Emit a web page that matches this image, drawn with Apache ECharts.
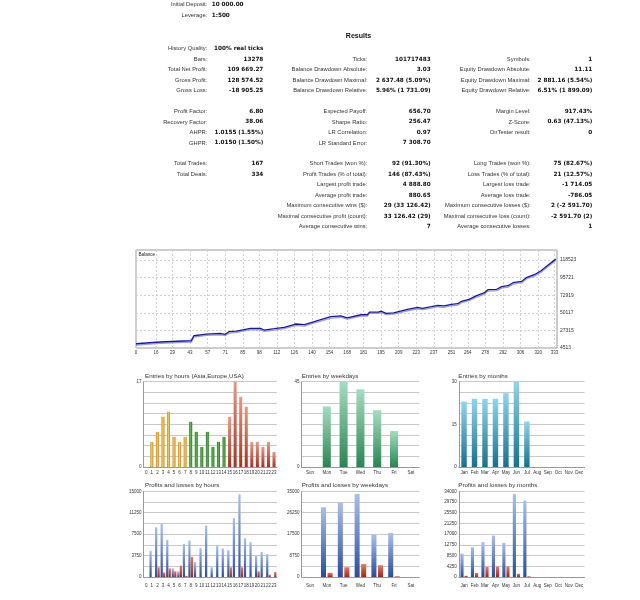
<!DOCTYPE html>
<html lang="en">
<head>
<meta charset="UTF-8">
<script src="https://cdn.jsdelivr.net/npm/echarts@6/dist/echarts.min.js"></script>
<title>Strategy Tester Report</title>
<style>
    html, body { margin: 0; padding: 0; background: #fff; }
    #main { width: 640px; height: 600px; }
</style>
</head>
<body>
<div id="main"></div>
<script type="text/javascript">

// ---- report text ----
var headerLabels = ['Initial Deposit:', 'Leverage:'];
var headerValues = ['10 000.00', '1:500'];

// each row: label, value, label, value, label, value (null = empty row)
var resultRows = [
    ['History Quality:', '100% real ticks', '', '', '', ''],
    ['Bars:', '13278', 'Ticks:', '101717483', 'Symbols:', '1'],
    ['Total Net Profit:', '109 669.27', 'Balance Drawdown Absolute:', '3.03', 'Equity Drawdown Absolute:', '11.11'],
    ['Gross Profit:', '128 574.52', 'Balance Drawdown Maximal:', '2 637.48 (5.09%)', 'Equity Drawdown Maximal:', '2 881.16 (5.54%)'],
    ['Gross Loss:', '-18 905.25', 'Balance Drawdown Relative:', '5.96% (1 731.09)', 'Equity Drawdown Relative:', '6.51% (1 899.09)'],
    null,
    ['Profit Factor:', '6.80', 'Expected Payoff:', '656.70', 'Margin Level:', '917.43%'],
    ['Recovery Factor:', '38.06', 'Sharpe Ratio:', '256.47', 'Z-Score:', '0.63 (47.13%)'],
    ['AHPR:', '1.0155 (1.55%)', 'LR Correlation:', '0.97', 'OnTester result:', '0'],
    ['GHPR:', '1.0150 (1.50%)', 'LR Standard Error:', '7 308.70', '', ''],
    null,
    ['Total Trades:', '167', 'Short Trades (won %):', '92 (91.30%)', 'Long Trades (won %):', '75 (82.67%)'],
    ['Total Deals:', '334', 'Profit Trades (% of total):', '146 (87.43%)', 'Loss Trades (% of total):', '21 (12.57%)'],
    ['', '', 'Largest profit trade:', '4 888.80', 'Largest loss trade:', '-1 714.05'],
    ['', '', 'Average profit trade:', '880.65', 'Average loss trade:', '-786.05'],
    ['', '', 'Maximum consecutive wins ($):', '29 (33 126.42)', 'Maximum consecutive losses ($):', '2 (-2 591.70)'],
    ['', '', 'Maximal consecutive profit (count):', '33 126.42 (29)', 'Maximal consecutive loss (count):', '-2 591.70 (2)'],
    ['', '', 'Average consecutive wins:', '7', 'Average consecutive losses:', '1']
];

// ---- balance graph ----
var balanceTicks = [0, 16, 29, 43, 57, 71, 85, 98, 112, 126, 140, 154, 168, 181, 195, 209, 223, 237, 251, 264, 278, 292, 306, 320, 333];
var balanceLevels = [4513, 27315, 50117, 72919, 95721, 118523];
var balanceDeal = [0, 19, 38, 44, 46, 56, 67, 71, 74, 80, 91, 99, 102, 110, 118, 127, 134, 140, 147, 155,
    163, 168, 179, 184, 186, 193, 195, 199, 205, 216, 224, 228, 235, 240, 245, 251, 256, 259, 265, 271,
    277, 280, 287, 291, 296, 300, 307, 311, 317, 322, 328, 334];
var balanceValue = [10000, 12300, 13600, 13900, 20400, 22600, 23500, 22300, 25600, 26500, 30000, 30000, 27800, 29500, 31300, 35600, 34700, 37800, 41200, 45100,
    46200, 43600, 47600, 47600, 51100, 51100, 52400, 49500, 50100, 54600, 57200, 56000, 58000, 59800, 59100, 61100, 61900, 65000, 67600, 72300,
    75800, 80100, 80600, 84000, 85200, 89100, 90900, 96100, 99500, 104300, 112000, 119669];

// ---- entries ----
var hours = ['0', '1', '2', '3', '4', '5', '6', '7', '8', '9', '10', '11', '12', '13', '14', '15', '16', '17', '18', '19', '20', '21', '22', '23'];
var weekdays = ['Sun', 'Mon', 'Tue', 'Wed', 'Thu', 'Fri', 'Sat'];
var months = ['Jan', 'Feb', 'Mar', 'Apr', 'May', 'Jun', 'Jul', 'Aug', 'Sep', 'Oct', 'Nov', 'Dec'];

var entriesByHour = [0, 5, 7, 10, 11, 6, 5, 6, 9, 7, 4, 7, 4, 5, 6, 10, 17, 14, 12, 5, 5, 4, 5, 3];
var entriesByWeekday = [0, 32, 45, 41, 30, 19, 0];
var entriesByMonth = [23, 24, 24, 24, 26, 30, 16, 0, 0, 0, 0, 0];
var entriesHourTicks = [0, 17];
var entriesWeekdayTicks = [0, 45];
var entriesMonthTicks = [0, 15, 30];

// ---- profits and losses ----
var profitByHour = [0, 4600, 8700, 9300, 6500, 1500, 1000, 5800, 6400, 2600, 5100, 9000, 1700, 5500, 5000, 4700, 10300, 14500, 6800, 6100, 3700, 4400, 4000, 0];
var lossByHour = [0, 0, 1700, 800, 1500, 1000, 2000, 200, 3500, 0, 0, 0, 0, 0, 0, 1700, 0, 1700, 0, 0, 1000, 0, 400, 900];
var profitByWeekday = [0, 28500, 30500, 33900, 17300, 18000, 0];
var lossByWeekday = [0, 1700, 4000, 5300, 4800, 300, 0];
var profitByMonth = [9300, 11800, 13800, 16400, 13500, 32900, 30300, 0, 0, 0, 0, 0];
var lossByMonth = [500, 1600, 4000, 4200, 4200, 1300, 300, 0, 0, 0, 0, 0];
var plHourTicks = [0, 3750, 7500, 11250, 15000];
var plWeekdayTicks = [0, 8750, 17500, 26250, 35000];
var plMonthTicks = [0, 4250, 8500, 12750, 17000, 21250, 25500, 29750, 34000];

var myChart = echarts.init(document.getElementById('main'));

// text blocks
var graphics = [];
function txt(x, y, s, opts) {
    graphics.push({
        type: 'text', x: x, y: y, silent: true,
        style: {
            text: s, fill: opts.fill || '#222',
            fontSize: opts.size, fontFamily: opts.family || '"Liberation Sans", Arial, sans-serif',
            fontWeight: opts.weight || 'normal',
            align: opts.align || 'right', verticalAlign: 'middle'
        }
    });
}
var LBL = { size: 5.8, fill: '#333' };
var VAL = { size: 5.7, weight: 'bold', family: '"DejaVu Sans", sans-serif', fill: '#111' };

headerLabels.forEach(function (l, i) {
    txt(207.3, 4.7 + i * 10.4, l, LBL);
    txt(211.7, 4.7 + i * 10.4, headerValues[i], { size: 5.7, weight: 'bold', family: '"DejaVu Sans", sans-serif', fill: '#111', align: 'left' });
});
txt(358.5, 36, 'Results', { size: 7, weight: 'bold', fill: '#111', align: 'center' });

var labelRight = [207.3, 367.3, 530.7];
var valueRight = [263.3, 430.7, 592.3];
resultRows.forEach(function (row, i) {
    if (!row) return;
    var y = 48.7 + i * 10.47;
    for (var c = 0; c < 3; c++) {
        if (row[c * 2]) txt(labelRight[c], y, row[c * 2], LBL);
        if (row[c * 2 + 1]) txt(valueRight[c], y, row[c * 2 + 1], VAL);
    }
});

txt(138.5, 254.5, 'Balance', { size: 4.6, fill: '#222', align: 'left' });

var titleOpt = { size: 6.2, fill: '#333', align: 'left' };
txt(145, 376.7, 'Entries by hours (Asia,Europe,USA)', titleOpt);
txt(301.7, 376.2, 'Entries by weekdays', titleOpt);
txt(458.3, 376.2, 'Entries by months', titleOpt);
txt(145, 485.3, 'Profits and losses by hours', titleOpt);
txt(301.7, 485.3, 'Profits and losses by weekdays', titleOpt);
txt(458.3, 485.3, 'Profits and losses by months', titleOpt);

// balance categories (deal numbers)
var dealCats = [];
for (var d = 0; d <= 335; d++) dealCats.push(String(d));
var balancePoints = balanceDeal.map(function (x, i) { return [x, balanceValue[i]]; });

function vgrad(top, bottom) {
    return new echarts.graphic.LinearGradient(0, 0, 0, 1, [{ offset: 0, color: top }, { offset: 1, color: bottom }]);
}
function hgrad(edge, mid) {
    return new echarts.graphic.LinearGradient(0, 0, 1, 0, [{ offset: 0, color: edge }, { offset: 0.45, color: mid }, { offset: 1, color: edge }]);
}
function hourColor(i) {
    if (i < 8) return hgrad('#c8881c', '#f3c865');
    if (i < 15) return hgrad('#2e7a2a', '#5fb052');
    return vgrad('#e79a88', '#a8321f');
}

function barGrid(left, top, width, height) {
    return { left: left, top: top, width: width, height: height, containLabel: false };
}
function catAxis(idx, data, margin) {
    return {
        type: 'category', gridIndex: idx, data: data,
        axisLine: { lineStyle: { color: '#999', width: 1 } },
        axisTick: { show: false },
        axisLabel: { interval: 0, fontSize: 4.5, color: '#333', margin: margin, fontFamily: '"Liberation Sans", Arial, sans-serif' },
        splitLine: { show: false }
    };
}
function valAxis(idx, ticks) {
    var max = ticks[ticks.length - 1];
    return {
        type: 'value', gridIndex: idx, min: 0, max: max, interval: max / 8,
        axisLine: { show: true, lineStyle: { color: '#999', width: 1 } },
        axisTick: { show: false },
        axisLabel: {
            fontSize: 4.5, color: '#333', margin: 2, fontFamily: '"Liberation Sans", Arial, sans-serif',
            formatter: function (v) {
                return ticks.some(function (t) { return Math.abs(t - v) < 1e-6; }) ? String(Math.round(v)) : '';
            }
        },
        splitLine: { show: true, lineStyle: { color: '#c8c8c8', width: 1 } }
    };
}

var blueGrad = vgrad('#a9c0ec', '#2b4c9c');
var redGrad = vgrad('#e27a66', '#9e2a18');

var option = {
    backgroundColor: '#ffffff',
    animation: false,
    graphic: graphics,
    grid: [
        { left: 136, top: 250, width: 421, height: 98, show: true, borderColor: '#9a9a9a', borderWidth: 1, backgroundColor: '#fff' },
        barGrid(143.5, 381.7, 133.3, 85.3),
        barGrid(301.6, 381.7, 117.6, 85.3),
        barGrid(458.8, 381.7, 125.7, 85.3),
        barGrid(143.5, 491.3, 133.3, 85.7),
        barGrid(301.6, 491.3, 117.6, 85.7),
        barGrid(458.8, 491.3, 125.7, 85.7)
    ],
    xAxis: [
        {
            type: 'category', gridIndex: 0, data: dealCats, boundaryGap: false,
            axisLine: { show: false }, axisTick: { show: false },
            axisLabel: {
                fontSize: 4.5, color: '#333', margin: 2, fontFamily: '"Liberation Sans", Arial, sans-serif',
                interval: function (i) { return balanceTicks.indexOf(i) >= 0; }
            },
            splitLine: {
                show: true, interval: function (i) { return balanceTicks.indexOf(i) >= 0; },
                lineStyle: { color: '#cfcfcf', type: [2, 2], width: 1 }
            }
        },
        catAxis(1, hours, 3),
        catAxis(2, weekdays, 3),
        catAxis(3, months, 3),
        catAxis(4, hours, 6),
        catAxis(5, weekdays, 6),
        catAxis(6, months, 6)
    ],
    yAxis: [
        {
            type: 'value', gridIndex: 0, position: 'right',
            min: balanceLevels[0], max: 131500, interval: balanceLevels[1] - balanceLevels[0],
            axisLine: { show: false }, axisTick: { show: false },
            axisLabel: {
                fontSize: 5, color: '#333', margin: 3, showMaxLabel: false, fontFamily: '"Liberation Sans", Arial, sans-serif',
                formatter: function (v) { return String(Math.round(v)); }
            },
            splitLine: { show: true, lineStyle: { color: '#cfcfcf', type: [2, 2], width: 1 } }
        },
        valAxis(1, entriesHourTicks),
        valAxis(2, entriesWeekdayTicks),
        valAxis(3, entriesMonthTicks),
        valAxis(4, plHourTicks),
        valAxis(5, plWeekdayTicks),
        valAxis(6, plMonthTicks)
    ],
    series: [
        {
            name: 'Balance', type: 'line', xAxisIndex: 0, yAxisIndex: 0,
            data: balancePoints, showSymbol: false, symbol: 'none',
            lineStyle: { color: '#1d1d86', width: 1.3, shadowColor: 'rgba(120,120,235,0.75)', shadowBlur: 0, shadowOffsetY: 1.4 }
        },
        {
            type: 'bar', xAxisIndex: 1, yAxisIndex: 1, barWidth: '55%',
            data: entriesByHour.map(function (v, i) { return { value: v, itemStyle: { color: hourColor(i) } }; })
        },
        {
            type: 'bar', xAxisIndex: 2, yAxisIndex: 2, barWidth: '48%', data: entriesByWeekday,
            itemStyle: { color: vgrad('#a6dcc0', '#2a8553') }
        },
        {
            type: 'bar', xAxisIndex: 3, yAxisIndex: 3, barWidth: '52%', data: entriesByMonth,
            itemStyle: { color: vgrad('#8fd6ec', '#17708f') }
        },
        { type: 'bar', xAxisIndex: 4, yAxisIndex: 4, barWidth: '40%', barGap: '12%', data: profitByHour, itemStyle: { color: blueGrad } },
        { type: 'bar', xAxisIndex: 4, yAxisIndex: 4, barWidth: '40%', barGap: '12%', data: lossByHour, itemStyle: { color: redGrad } },
        { type: 'bar', xAxisIndex: 5, yAxisIndex: 5, barWidth: '30%', barGap: '30%', data: profitByWeekday, itemStyle: { color: blueGrad } },
        { type: 'bar', xAxisIndex: 5, yAxisIndex: 5, barWidth: '30%', barGap: '30%', data: lossByWeekday, itemStyle: { color: redGrad } },
        { type: 'bar', xAxisIndex: 6, yAxisIndex: 6, barWidth: '30%', barGap: '30%', data: profitByMonth, itemStyle: { color: blueGrad } },
        { type: 'bar', xAxisIndex: 6, yAxisIndex: 6, barWidth: '30%', barGap: '30%', data: lossByMonth, itemStyle: { color: redGrad } }
    ]
};

myChart.setOption(option);
</script>
</body>
</html>
